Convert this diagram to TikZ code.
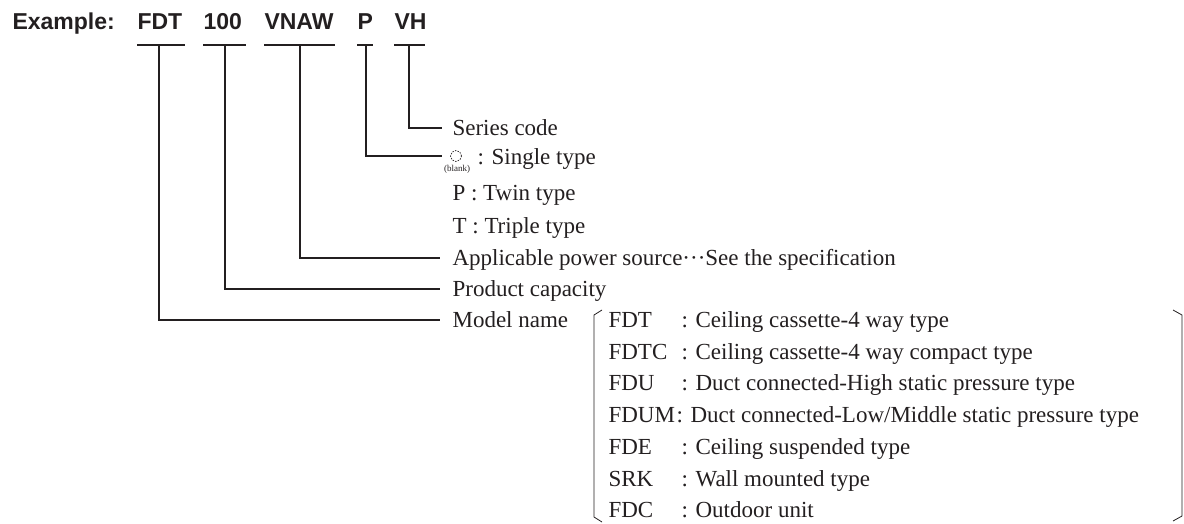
\documentclass[tikz,border=0pt]{standalone}
\usepackage{fontspec}
\setmainfont{Liberation Serif}
\setsansfont{Liberation Sans}
\definecolor{ink}{RGB}{35,31,32}
\begin{document}
\begin{tikzpicture}[x=1pt,y=-1pt,line width=1.1pt,draw=ink,text=ink,
  font=\fontsize{23}{27}\selectfont,
  code/.style={anchor=base west,inner sep=0pt,font=\fontsize{23}{27}\selectfont\sffamily\bfseries},
  txt/.style={anchor=west,inner sep=0pt,text height=17pt,text depth=2pt}]
\useasboundingbox (0,0) rectangle (1184,523);
% example code
\node[code] (ex) at (12,29) {Example:};
\node[code] (mFDT) at (137,29) {FDT};
\node[code] (m100) at (203,29) {100};
\node[code] (mVNAW) at (264,29) {VNAW};
\node[code] (mP) at (357,29) {P};
\node[code] (mVH) at (394,29) {VH};
\foreach \n/\a/\b/\v in {FDT/137/185/159, 100/203/246/225, VNAW/264/335/300, P/357/373/366, VH/394/425/409}{
  \draw (\a,45) -- (\b,45);
  \coordinate (u\n) at (\v,45);
}
% meanings
\node[txt] (lSeries) at (452,128) {Series code};
\node[circle,draw,dashed,line width=0.7pt,dash pattern=on 1.5pt off 1.2pt,minimum size=11pt,inner sep=0pt] (blank) at (456,156) {};
\node[font=\fontsize{9}{10}\selectfont,inner sep=0pt] (blanktxt) at (457,169) {(blank)};
\node[txt] (lSingle) at (477,157) {: Single type};
\node[txt] (lTwin) at (452,193) {P : Twin type};
\node[txt] (lTriple) at (452,226) {T : Triple type};
\node[txt] (lPower) at (452,258) {Applicable power source\textperiodcentered\textperiodcentered\textperiodcentered{}See the specification};
\node[txt] (lCap) at (452,289) {Product capacity};
\node[txt] (lModel) at (452,320) {Model name};
% connectors
\draw (uVH) |- ([xshift=-10pt]lSeries.west);
\draw (uP) |- ([xshift=-8pt]blank.west);
\draw (uVNAW) |- ([xshift=-12pt]lPower.west);
\draw (u100) |- ([xshift=-12pt]lCap.west);
\draw (uFDT) |- ([xshift=-12pt]lModel.west);
% model names
\foreach \c/\d/\s [count=\i from 0] in {FDT/Ceiling cassette-4 way type/681, FDTC/Ceiling cassette-4 way compact type/681,
  FDU/Duct connected-High static pressure type/681, FDUM/Duct connected-Low\slash Middle static pressure type/676,
  FDE/Ceiling suspended type/681, SRK/Wall mounted type/681, FDC/Outdoor unit/681}{
  \node[txt] (c\c) at (608,320+31.7*\i) {\c};
  \node[txt] (d\c) at (\s,320+31.7*\i) {: \d};
}
\draw[line width=0.8pt] (602,310) -- (594,315) -- (594,517) -- (602,522);
\draw[line width=0.8pt] (1173,310) -- (1182,315) -- (1182,516) -- (1173,521);
\end{tikzpicture}
\end{document}
